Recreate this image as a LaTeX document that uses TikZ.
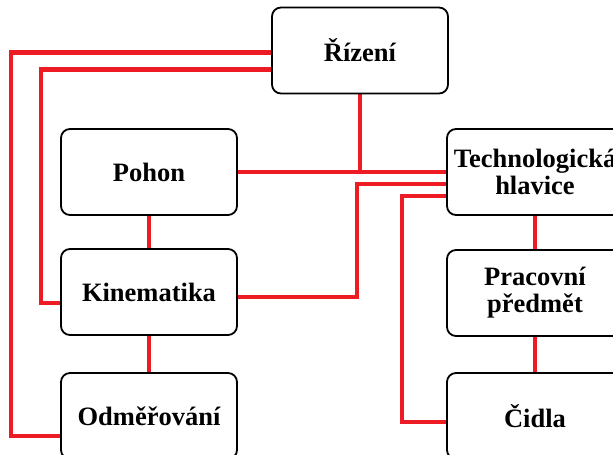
\documentclass[tikz,border=0pt]{standalone}
\usepackage{fontspec}
\setmainfont{Liberation Serif}
\usetikzlibrary{backgrounds}
\definecolor{wirered}{RGB}{237,28,36}
\tikzset{
  blok/.style={draw, line width=1.8pt, rounded corners=9pt, fill=white,
    minimum width=176pt, minimum height=86pt, inner sep=0pt, align=center,
    font=\fontsize{26.5}{27}\selectfont\bfseries},
  wire/.style={wirered, line width=4.5pt}
}
\begin{document}
\begin{tikzpicture}[x=1pt,y=-1pt]
\useasboundingbox (0,0) rectangle (613,455);
\clip (0,0) rectangle (613,455);
\node[blok] (rizeni) at (360,50.5){Řízení};
\node[blok] (pohon) at (149,172){Pohon};
\node[blok] (tech) at (535,172){Technologická\\hlavice};
\node[blok] (kinem) at (149,292){Kinematika};
\node[blok] (prac) at (535,293){Pracovní\\předmět};
\node[blok] (odmer) at (149,416){Odměřování};
\node[blok] (cidla) at (535,416){Čidla};

\begin{scope}[on background layer]
% left column
\draw[wire](pohon.south) -- (kinem.north);
\draw[wire](kinem.south) -- (odmer.north);
\draw[wire]([yshift=-2pt]rizeni.west) -| ([xshift=-49pt,yshift=-20pt]odmer.west) -- ([yshift=-20pt]odmer.west);
\draw[wire]([yshift=-19pt]rizeni.west) -| ([xshift=-19pt,yshift=-11pt]kinem.west) -- ([yshift=-11pt]kinem.west);
% right column
\draw[wire](tech.south) -- (prac.north);
\draw[wire](prac.south) -- (cidla.north);
\draw[wire](pohon.east) -- (tech.west);
\draw[wire](rizeni.south) -- (rizeni.south |- pohon.east);
\draw[wire]([yshift=-12pt]tech.west) -| ([xshift=119pt,yshift=-5pt]kinem.east) -- ([yshift=-5pt]kinem.east);
\draw[wire]([yshift=-24pt]tech.west) -| ([xshift=-44pt,yshift=-6pt]cidla.west) -- ([yshift=-6pt]cidla.west);
\end{scope}

\end{tikzpicture}
\end{document}
